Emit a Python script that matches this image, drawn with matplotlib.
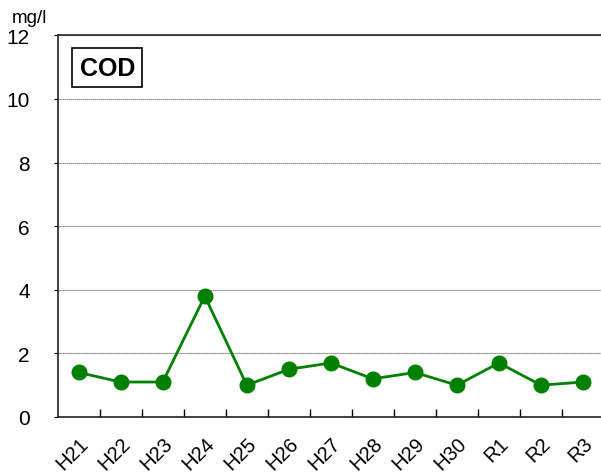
import matplotlib
matplotlib.use("Agg")
import matplotlib.pyplot as plt
import numpy as np

# COD (mg/l) by fiscal year
years = ["H21", "H22", "H23", "H24", "H25", "H26", "H27",
         "H28", "H29", "H30", "R1", "R2", "R3"]
cod = [1.4, 1.1, 1.1, 3.8, 1.0, 1.5, 1.7, 1.2, 1.4, 1.0, 1.7, 1.0, 1.1]

plt.rcParams['font.family'] = ['Liberation Sans', 'DejaVu Sans']

fig = plt.figure(figsize=(6.01, 4.77), dpi=100)
ax = fig.add_axes([0.096, 0.1237, 0.909, 0.80])

x = np.arange(len(years))
ax.plot(x, cod, color='#008000', lw=2.0, marker='o', markersize=10.5, zorder=3)

ax.set_xlim(-0.5, len(years) - 0.5)
ax.set_ylim(0, 12)
ax.set_yticks(np.arange(0, 13, 2))
ax.tick_params(axis='y', labelsize=15, length=3, pad=17)

ax.set_xticks(x)
ax.set_xticklabels(years, rotation=45, ha='right', va='top',
                   rotation_mode='anchor', fontsize=14.5)
ax.tick_params(axis='x', which='major', length=0, pad=12)
ax.set_xticks(np.arange(0.5, len(years) - 0.5), minor=True)
ax.tick_params(axis='x', which='minor', direction='in', length=6, width=1)

ax.yaxis.grid(True, linestyle=(0, (1, 0.6)), color='#777777', lw=0.9)
for s in ax.spines.values():
    s.set_linewidth(1.2)
    s.set_color('#222222')

fig.text(0.02, 0.962, "mg/l", fontsize=13.5, ha='left', va='center')
ax.text(0.04, 0.915, "COD", transform=ax.transAxes, fontsize=18,
        fontweight='bold', ha='left', va='center',
        bbox=dict(boxstyle='square,pad=0.3', fc='white', ec='black', lw=1.2))

fig.savefig("out.png", dpi=100)
